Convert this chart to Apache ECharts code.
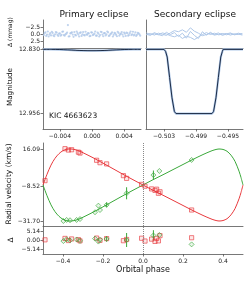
<!DOCTYPE html>
<html><head><meta charset="utf-8">
<script src="https://cdn.jsdelivr.net/npm/echarts@6/dist/echarts.min.js"></script>
<style>html,body{margin:0;padding:0;background:#fff}#c{width:249px;height:282px}</style>
</head><body><div id="c"></div>
<script>
// ---------- Eclipse light-curve model ----------
const primPhase = [-0.0061,-0.0050,-0.0040,-0.0030,-0.0020,-0.0010,0.0000,0.0010,0.0020,0.0030,0.0040,0.0050,0.0061];
const primMag   = [12.8300,12.8300,12.8303,12.8310,12.8318,12.8324,12.8326,12.8324,12.8318,12.8310,12.8303,12.8300,12.8300];
const secPhase = [-0.50525,-0.5030,-0.5028,-0.5026,-0.5023,-0.5020,-0.5017,-0.5015,-0.4970,-0.4968,-0.4965,-0.4962,-0.4959,-0.4957,-0.4956,-0.49312];
const secMag   = [12.830,12.830,12.834,12.845,12.885,12.925,12.952,12.956,12.956,12.952,12.925,12.885,12.845,12.834,12.830,12.830];

// ---------- Eclipse residuals (mmag) ----------
const resPrimPhaseA = [-0.0060,-0.0058,-0.0056,-0.0054,-0.0052,-0.0050,-0.0048,-0.0046,-0.0044,-0.0042,-0.0040,-0.0038,-0.0036,-0.0034,-0.0032,-0.0030,-0.0028,-0.0026,-0.0024,-0.0022,-0.0020,-0.0018,-0.0016,-0.0014,-0.0012,-0.0010,-0.0008,-0.0006,-0.0004,-0.0002,0.0000,0.0002,0.0004,0.0006,0.0008,0.0010,0.0012,0.0014,0.0016,0.0018,0.0020,0.0022,0.0024,0.0026,0.0028,0.0030,0.0032,0.0034,0.0036,0.0038,0.0040,0.0042,0.0044,0.0046,0.0048,0.0050,0.0052,0.0054,0.0056,0.0058,0.0060];
const resPrimA = [0.4,-0.6,0.2,0.9,-0.3,-0.8,0.5,0.1,-0.5,0.7,-0.2,0.3,-0.9,0.6,-0.1,-3.2,0.8,-0.4,0.2,-0.7,0.5,-0.3,0.9,-0.6,0.1,0.4,-0.8,0.3,-0.2,0.7,-0.5,0.2,-0.9,0.6,-0.1,0.4,-0.7,0.8,-0.3,0.1,-0.6,0.5,-0.2,0.9,-0.4,0.3,-0.8,0.6,-0.1,0.2,-0.5,0.7,-0.3,0.4,-0.9,0.1,0.5,-0.6,0.3,-0.2,0.6];
const resPrimPhaseB = [-0.0059,-0.0057,-0.0055,-0.0053,-0.0051,-0.0049,-0.0047,-0.0045,-0.0043,-0.0041,-0.0039,-0.0037,-0.0035,-0.0033,-0.0031,-0.0029,-0.0027,-0.0025,-0.0023,-0.0021,-0.0019,-0.0017,-0.0015,-0.0013,-0.0011,-0.0009,-0.0007,-0.0005,-0.0003,-0.0001,0.0001,0.0003,0.0005,0.0007,0.0009,0.0011,0.0013,0.0015,0.0017,0.0019,0.0021,0.0023,0.0025,0.0027,0.0029,0.0031,0.0033,0.0035,0.0037,0.0039,0.0041,0.0043,0.0045,0.0047,0.0049,0.0051,0.0053,0.0055,0.0057,0.0059];
const resPrimB = [-0.3,0.7,-0.9,0.2,0.5,-0.4,0.8,-0.7,0.3,-0.1,0.6,-0.8,0.4,0.1,-0.5,0.9,-0.2,-0.6,1.0,0.3,-0.9,0.2,-0.4,0.7,-0.7,0.5,0.1,-0.3,0.8,-0.6,0.4,-0.1,0.6,-0.5,0.9,-0.8,0.2,-0.3,0.5,-0.9,0.7,0.0,-0.6,0.3,-0.2,0.8,-0.4,0.1,-0.7,0.9,-0.1,-0.5,0.6,-0.3,0.4,-0.8,0.2,0.7,-0.4,0.1];
const resSecPhase = [-0.5052,-0.5047,-0.5042,-0.5037,-0.5032,-0.5027,-0.5022,-0.5017,-0.5012,-0.5007,-0.5002,-0.4997,-0.4992,-0.4987,-0.4982,-0.4977,-0.4972,-0.4967,-0.4962,-0.4957,-0.4952,-0.4947,-0.4942,-0.4937,-0.4932];
const resSecA = [0.3,-0.2,0.4,-0.3,0.1,0.5,-0.4,-1.2,-0.8,-1.5,-0.6,-2.2,-1.0,-0.3,0.6,0.2,-0.3,0.4,0.1,-0.2,0.3,-0.1,0.2,-0.3,0.1];
const resSecB = [-0.4,0.2,-0.1,0.3,-0.4,0.0,0.6,1.0,0.4,1.6,0.8,1.2,2.0,1.1,0.2,-0.5,0.2,-0.3,0.3,0.1,-0.2,0.4,-0.1,0.2,-0.2];
const resSecC = [0.1,0.5,-0.5,0.2,0.6,-0.6,0.2,-0.5,0.9,-0.3,1.5,-0.9,0.5,1.6,-0.8,0.4,-0.6,0.2,-0.4,0.5,0.0,-0.4,0.3,0.0,0.4];

// ---------- Radial velocity models (km/s) ----------
const rvModelPhase = [-0.5,-0.49,-0.48,-0.46,-0.44,-0.42,-0.40,-0.38,-0.36,-0.34,-0.32,-0.30,-0.25,-0.20,-0.15,-0.10,-0.05,0.0,0.05,0.10,0.15,0.20,0.25,0.30,0.34,0.36,0.38,0.40,0.42,0.44,0.46,0.48,0.49,0.5];
const rvModelRed   = [-7.8,-4.2,-0.7,5.4,9.9,13.0,15.0,15.95,16.09,15.7,14.8,13.6,10.3,6.7,3.0,-0.7,-4.3,-7.8,-11.3,-14.6,-18.0,-21.4,-24.8,-28.0,-30.3,-31.2,-31.7,-31.4,-30.2,-27.6,-23.5,-17.0,-12.8,-7.8];
const rvModelGreen = [-7.8,-11.4,-14.9,-21.0,-25.5,-28.6,-30.6,-31.55,-31.7,-31.3,-30.4,-29.2,-25.9,-22.3,-18.6,-14.9,-11.3,-7.8,-4.3,-1.0,2.4,5.8,9.2,12.4,14.7,15.6,16.09,15.8,14.6,12.0,7.9,1.4,-2.8,-7.8];

// ---------- Radial velocity measurements ----------
const redPhase = [-0.49,-0.39,-0.373,-0.357,-0.323,-0.315,-0.232,-0.215,-0.182,-0.098,-0.082,-0.007,0.010,0.043,0.060,0.068,0.077,0.085,0.243];
const redRV    = [-4.9,16.3,15.4,15.6,14.0,13.4,8.6,7.0,6.2,-1.6,-3.4,-7.4,-8.6,-10.4,-11.4,-10.6,-13.3,-12.3,-24.4];
const redRes   = [0.1,0.9,-0.3,0.6,0.2,-0.5,1.1,-0.2,0.8,-0.4,0.3,1.0,-0.6,0.5,-0.8,0.9,-0.5,2.5,1.3];
const greenPhase = [-0.398,-0.382,-0.365,-0.332,-0.315,-0.240,-0.223,-0.215,-0.182,-0.082,0.052,0.082,0.243];
const greenRV    = [-31.7,-31.0,-31.2,-31.0,-30.4,-25.9,-21.5,-24.4,-21.0,-13.3,-1.2,1.5,8.8];
const greenErr   = [0,0,0,0,0,0,0,0,1.5,4.0,3.0,0,0];
const greenRes   = [-0.6,0.4,-0.2,0.3,-0.5,0.8,-0.9,0.2,0.6,0.0,2.6,2.9,-2.5];

// ---------- Tick labels ----------
const primTicks = [-0.004,0.000,0.004];
const secTicks = [-0.503,-0.499,-0.495];
const resTicks = [-2.5,0.0,2.5];
const magTicks = [12.830,12.956];
const rvTicks = [16.09,-8.52,-31.70];
const rvResTicks = [5.14,0.00,-5.14];
const phaseTicks = [-0.4,-0.2,0.0,0.2,0.4];

const BLUE = '#aec7e8', NAVY = '#1c2b45', RED = '#e8393d', GREEN = '#3aa83a', AX = '#555';
const FONT = 'DejaVu Sans';
const fmt = d => v => (v < -1e-9 ? '\u2212' : '') + Math.abs(v).toFixed(d);
const zip = (a, b) => a.map((x, i) => [x, b[i]]);

function xAx(grid, min, max, ticks, dec) {
  return {
    type: 'value', gridIndex: grid, min: min, max: max, splitLine: {show: false},
    axisLine: {show: true, onZero: false, lineStyle: {color: AX, width: 0.8}},
    axisTick: ticks ? {show: true, customValues: ticks, length: 2.5, lineStyle: {color: AX, width: 0.8}} : {show: false},
    axisLabel: ticks ? {show: true, customValues: ticks, formatter: fmt(dec), fontSize: 6, fontFamily: FONT, color: '#222', margin: 4} : {show: false}
  };
}
function yAx(grid, min, max, ticks, dec, inverse) {
  return {
    type: 'value', gridIndex: grid, min: min, max: max, inverse: !!inverse, splitLine: {show: false},
    axisLine: {show: true, onZero: false, lineStyle: {color: AX, width: 0.8}},
    axisTick: ticks ? {show: true, customValues: ticks, length: 2.5, lineStyle: {color: AX, width: 0.8}} : {show: false},
    axisLabel: ticks ? {show: true, customValues: ticks, formatter: fmt(dec), fontSize: 6, fontFamily: FONT, color: '#222', margin: 3} : {show: false}
  };
}
const errBars = (phase, val, err, xi, yi) => ({
  type: 'custom', xAxisIndex: xi, yAxisIndex: yi, z: 3,
  data: phase.map((p, i) => [p, val[i], err[i]]).filter(d => d[2] > 0),
  renderItem: (params, api) => {
    const x = api.value(0), y = api.value(1), e = api.value(2);
    const a = api.coord([x, y - e]), b = api.coord([x, y + e]);
    return {type: 'line', shape: {x1: a[0], y1: a[1], x2: b[0], y2: b[1]}, style: {stroke: GREEN, lineWidth: 1}};
  }
});
const vline = {silent: true, symbol: 'none', label: {show: false}, data: [{xAxis: 0}], lineStyle: {type: 'dotted', color: '#888', width: 1}};
const rectStyle = {color: 'rgba(232,57,61,0.15)', borderColor: RED, borderWidth: 0.8};
const diaStyle = {color: 'rgba(58,168,58,0.15)', borderColor: GREEN, borderWidth: 0.8};

const option = {
  animation: false,
  grid: [
    {left: 43, top: 20, width: 98, height: 28, outerBoundsMode: 'none'},
    {left: 146, top: 20, width: 97, height: 28, outerBoundsMode: 'none'},
    {left: 43, top: 48, width: 98, height: 81, outerBoundsMode: 'none'},
    {left: 146, top: 48, width: 97, height: 81, outerBoundsMode: 'none'},
    {left: 43, top: 143, width: 200, height: 83, outerBoundsMode: 'none'},
    {left: 43, top: 226, width: 200, height: 28, outerBoundsMode: 'none'}
  ],
  xAxis: [
    xAx(0, -0.0061, 0.0061, null),
    xAx(1, -0.50525, -0.49312, null),
    xAx(2, -0.0061, 0.0061, primTicks, 3),
    xAx(3, -0.50525, -0.49312, secTicks, 3),
    xAx(4, -0.5, 0.5, null),
    xAx(5, -0.5, 0.5, phaseTicks, 1)
  ],
  yAxis: [
    yAx(0, -5, 5, resTicks, 1, true),
    yAx(1, -5, 5, null, 0, true),
    yAx(2, 12.8273, 12.9863, magTicks, 3, true),
    yAx(3, 12.8273, 12.9863, null, 0, true),
    yAx(4, -35.02, 20.07, rvTicks, 2),
    yAx(5, -8, 8, rvResTicks, 2)
  ],
  series: [
    {type: 'scatter', xAxisIndex: 0, yAxisIndex: 0, data: zip(resPrimPhaseA, resPrimA), symbolSize: 2.2, itemStyle: {color: BLUE}},
    {type: 'scatter', xAxisIndex: 0, yAxisIndex: 0, data: zip(resPrimPhaseB, resPrimB), symbolSize: 2.2, itemStyle: {color: BLUE}},
    {type: 'line', xAxisIndex: 1, yAxisIndex: 1, data: zip(resSecPhase, resSecA), symbol: 'none', lineStyle: {color: BLUE, width: 1}},
    {type: 'line', xAxisIndex: 1, yAxisIndex: 1, data: zip(resSecPhase, resSecB), symbol: 'none', lineStyle: {color: BLUE, width: 1}},
    {type: 'line', xAxisIndex: 1, yAxisIndex: 1, data: zip(resSecPhase, resSecC), symbol: 'none', lineStyle: {color: BLUE, width: 1}},
    {type: 'line', xAxisIndex: 2, yAxisIndex: 2, data: zip(primPhase, primMag), symbol: 'none', smooth: 0.3, lineStyle: {color: BLUE, width: 2.2}},
    {type: 'line', xAxisIndex: 2, yAxisIndex: 2, data: zip(primPhase, primMag), symbol: 'none', smooth: 0.3, lineStyle: {color: NAVY, width: 1}},
    {type: 'line', xAxisIndex: 3, yAxisIndex: 3, data: zip(secPhase, secMag), symbol: 'none', lineStyle: {color: BLUE, width: 2.2}},
    {type: 'line', xAxisIndex: 3, yAxisIndex: 3, data: zip(secPhase, secMag), symbol: 'none', lineStyle: {color: NAVY, width: 1}},
    {type: 'line', xAxisIndex: 4, yAxisIndex: 4, data: zip(rvModelPhase, rvModelRed), symbol: 'none', smooth: 0.3, lineStyle: {color: RED, width: 1}, markLine: vline},
    {type: 'line', xAxisIndex: 4, yAxisIndex: 4, data: zip(rvModelPhase, rvModelGreen), symbol: 'none', smooth: 0.3, lineStyle: {color: GREEN, width: 1}},
    errBars(greenPhase, greenRV, greenErr, 4, 4),
    {type: 'scatter', xAxisIndex: 4, yAxisIndex: 4, data: zip(redPhase, redRV), symbol: 'rect', symbolSize: 4.2, itemStyle: rectStyle, z: 4},
    {type: 'scatter', xAxisIndex: 4, yAxisIndex: 4, data: zip(greenPhase, greenRV), symbol: 'diamond', symbolSize: 5, itemStyle: diaStyle, z: 4},
    errBars(greenPhase, greenRes, greenErr, 5, 5),
    {type: 'scatter', xAxisIndex: 5, yAxisIndex: 5, data: zip(redPhase, redRes), symbol: 'rect', symbolSize: 4.2, itemStyle: rectStyle, z: 4, markLine: vline},
    {type: 'scatter', xAxisIndex: 5, yAxisIndex: 5, data: zip(greenPhase, greenRes), symbol: 'diamond', symbolSize: 5, itemStyle: diaStyle, z: 4}
  ],
  graphic: [
    {type: 'text', x: 94, y: 15, style: {text: 'Primary eclipse', font: '9px "DejaVu Sans"', fill: '#111', align: 'center', verticalAlign: 'middle'}},
    {type: 'text', x: 195, y: 15, style: {text: 'Secondary eclipse', font: '9px "DejaVu Sans"', fill: '#111', align: 'center', verticalAlign: 'middle'}},
    {type: 'text', x: 10, y: 32, rotation: Math.PI / 2, style: {text: '\u0394 (mmag)', font: '6px "DejaVu Sans"', fill: '#111', align: 'center', verticalAlign: 'middle'}},
    {type: 'text', x: 10, y: 87, rotation: Math.PI / 2, style: {text: 'Magnitude', font: '7.2px "DejaVu Sans"', fill: '#111', align: 'center', verticalAlign: 'middle'}},
    {type: 'text', x: 49, y: 116, style: {text: 'KIC 4663623', font: '7.5px "DejaVu Sans"', fill: '#111', align: 'left', verticalAlign: 'middle'}},
    {type: 'text', x: 9, y: 184, rotation: Math.PI / 2, style: {text: 'Radial velocity (km/s)', font: '7.5px "DejaVu Sans"', fill: '#111', align: 'center', verticalAlign: 'middle'}},
    {type: 'text', x: 11, y: 240, rotation: Math.PI / 2, style: {text: '\u0394', font: '7.5px "DejaVu Sans"', fill: '#111', align: 'center', verticalAlign: 'middle'}},
    {type: 'text', x: 143, y: 270, style: {text: 'Orbital phase', font: '8px "DejaVu Sans"', fill: '#111', align: 'center', verticalAlign: 'middle'}}
  ]
};
const chart = echarts.init(document.getElementById('c'), null, {renderer: 'canvas'});
chart.setOption(option);
</script></body></html>
